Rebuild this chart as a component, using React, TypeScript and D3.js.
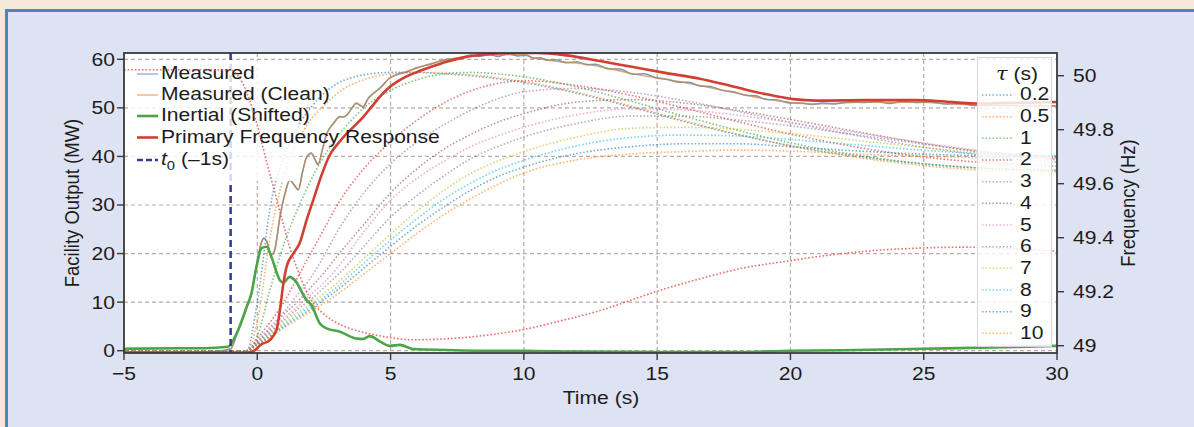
import React from 'react';
import * as d3 from 'd3';

// ---- data ----
const xTicks = [-5, 0, 5, 10, 15, 20, 25, 30];
const yTicks = [0, 10, 20, 30, 40, 50, 60];
const freqTicks = [49, 49.2, 49.4, 49.6, 49.8, 50];

const tauLabels = ['0.2', '0.5', '1', '2', '3', '4', '5', '6', '7', '8', '9', '10'];
const tauColors = ['#1f77b4', '#ff7f0e', '#2ca02c', '#d62728', '#9467bd', '#8c564b',
  '#e377c2', '#7f7f7f', '#bcbd22', '#17becf', '#1f77b4', '#ff7f0e'];

const tauTime = [-5, -1, -0.4, 0, 0.5, 1, 1.5, 2, 2.5, 3, 4, 5, 6, 7, 8, 9, 10, 12, 14, 16, 18, 20, 22, 24, 26, 28, 30];
const tau0_2 = [0, 0, 0, 10, 30, 40, 46, 50, 53, 55, 56.8, 57.3, 57.3, 57, 56.6, 56, 55.2, 53, 50.2, 47.2, 44.5, 42.2, 40.4, 39, 38, 37.4, 37.1];
const tau0_5 = [0, 0, 0, 6, 24, 36, 43, 47.5, 50.5, 53, 55.8, 57, 57.3, 57.2, 56.8, 56.2, 55.4, 53.2, 50.4, 47.4, 44.6, 42.2, 40.2, 38.7, 37.6, 37, 36.8];
const tau1 = [0, 0, 0, 3, 13, 22, 29, 35, 40, 44, 50, 53.6, 55.8, 57, 57.3, 57, 56.4, 54.3, 51.4, 48.3, 45.4, 42.8, 40.7, 39.1, 38, 37.4, 37.2];
const tau2 = [0, 0, 0, 2.5, 6, 10, 15, 20, 25, 30, 37.5, 43, 47.5, 51, 53.5, 55, 55.6, 54.6, 52.6, 50, 47.2, 44.6, 42.4, 40.6, 39.3, 38.5, 38];
const tau3 = [0, 0, 0, 2, 5, 8, 11.5, 15, 19.5, 24.5, 32.5, 38.5, 43, 46.5, 49.5, 51.8, 53.3, 54, 53.2, 51.5, 49.3, 47, 44.8, 42.8, 41.1, 39.7, 38.8];
const tau4 = [0, 0, 0, 1.8, 4.5, 7.5, 10, 13, 16, 19.5, 26, 32.5, 37.5, 41.5, 44.5, 47, 48.8, 51.2, 51.7, 51, 49.5, 47.6, 45.6, 43.6, 41.8, 40.3, 39.3];
const tau5 = [0, 0, 0, 1.6, 4, 6.8, 9, 11.5, 14, 17, 24.5, 31, 35.5, 39, 42, 44.2, 46, 48.6, 49.8, 49.6, 48.5, 47, 45.3, 43.6, 42, 40.6, 39.6];
const tau6 = [0, 0, 0, 1.5, 3.8, 6.3, 8.5, 10.5, 13, 15.5, 21.5, 27.5, 32, 36, 39.5, 42, 44, 46.8, 48.3, 48.3, 47.5, 46.3, 44.8, 43.3, 41.8, 40.6, 39.8];
const tau7 = [0, 0, 0, 1.4, 3.5, 5.8, 7.8, 9.5, 11.8, 14, 19, 24, 28.8, 33, 36.5, 39, 41, 44, 45.8, 46, 45.6, 44.7, 43.6, 42.4, 41.3, 40.5, 40];
const tau8 = [0, 0, 0, 1.3, 3.2, 5.4, 7.3, 9, 11, 13.2, 18, 22.8, 27.2, 31.2, 34.5, 37.2, 39.2, 42.2, 43.9, 44.4, 44.2, 43.5, 42.6, 41.7, 40.9, 40.4, 40.2];
const tau9 = [0, 0, 0, 1.2, 3, 5, 6.8, 8.5, 10.5, 12.5, 17, 21.5, 25.8, 29.6, 33, 35.8, 37.8, 40.6, 42, 42.6, 42.6, 42, 41.3, 40.7, 40.3, 40.1, 40];
const tau10 = [0, 0, 0, 1.1, 2.8, 4.7, 6.4, 8, 9.8, 11.6, 15.8, 20, 24.2, 28, 31.3, 34.2, 36.6, 39.3, 40.5, 41, 41.3, 41.1, 40.6, 40.2, 39.9, 39.7, 39.6];
const tauSeries = [tau0_2, tau0_5, tau1, tau2, tau3, tau4, tau5, tau6, tau7, tau8, tau9, tau10];

// [time (s), MW]
const measuredClean: [number, number][] = [
  [-5, -0.3], [-3, -0.2], [-1.5, -0.2], [-1, 0.3], [-0.77, 3.4], [-0.4, 8.8], [-0.22, 11.7], [-0.03, 17.5],
  [0.16, 22.3], [0.25, 23.1], [0.35, 22.6], [0.53, 19.8], [0.65, 20.6], [0.85, 27.6], [1.05, 32.5], [1.22, 35.1],
  [1.38, 34.2], [1.54, 33.2], [1.7, 36.8], [1.85, 39.9], [2.03, 40.6], [2.15, 39.6], [2.28, 38.4], [2.45, 41.5],
  [2.6, 44.5], [2.85, 46.8], [3.1, 48.1], [3.25, 48.2], [3.41, 48.8], [3.55, 50], [3.72, 50.9], [3.85, 50.6],
  [3.97, 50.3], [4.15, 51.8], [4.35, 53], [4.6, 54], [4.97, 56.2], [5.3, 56.9], [5.6, 57.5], [6, 58.2],
  [6.5, 59.1], [7.1, 59.9], [7.7, 60.5], [8.4, 60.8], [9.1, 60.9], [9.6, 61], [10.1, 60.8], [10.35, 60.3],
  [10.8, 59.9], [11.35, 59.5], [12.35, 59], [13.2, 58.1], [14.1, 57], [15.35, 55.9], [16.6, 54.6], [17.85, 53.2],
  [19.1, 51.8], [20, 51.1], [20.8, 50.8], [21.6, 50.9], [22.8, 51.2], [23.7, 51.1], [24.7, 51.2], [25.8, 50.9],
  [26.9, 50.6], [28, 50.5], [30, 50.4],
];
const measuredRaw: [number, number][] = [
  [-5, -0.2], [-3, -0.3], [-1.5, -0.1], [-1, 0.4], [-0.77, 3.3], [-0.4, 8.9], [-0.22, 11.6], [-0.03, 17.6],
  [0.16, 22.4], [0.25, 23.2], [0.35, 22.5], [0.53, 19.7], [0.65, 20.7], [0.85, 27.5], [1.05, 32.6], [1.22, 35.2],
  [1.38, 34.1], [1.54, 33.1], [1.7, 36.9], [1.85, 39.8], [2.03, 40.7], [2.15, 39.5], [2.28, 38.3], [2.45, 41.6],
  [2.6, 44.6], [2.85, 46.7], [3.1, 48.2], [3.25, 48.1], [3.41, 48.9], [3.55, 49.9], [3.72, 51], [3.85, 50.5],
  [3.97, 50.2], [4.15, 51.9], [4.35, 52.9], [4.6, 54.1], [4.97, 56.1], [5.3, 57], [5.6, 57.4], [6, 58.3],
  [6.5, 59], [7.1, 60], [7.7, 60.4], [8, 60.9], [8.3, 60.6], [8.7, 61], [9, 60.6], [9.4, 61.1], [9.8, 60.7],
  [10.1, 60.9], [10.35, 60.2], [10.6, 60.3], [10.9, 59.8], [11.2, 59.9], [11.6, 59.3], [12, 59.5], [12.35, 58.9],
  [12.7, 59], [13.2, 58], [13.6, 58], [14.1, 56.9], [14.5, 57], [15, 56.1], [15.35, 55.9], [15.8, 55.3],
  [16.2, 55.3], [16.6, 54.5], [17, 54.4], [17.45, 53.6], [17.85, 53.3], [18.3, 52.6], [18.7, 52.5], [19.1, 51.7],
  [19.5, 51.6], [20, 51], [20.4, 51], [20.8, 50.7], [21.2, 51], [21.6, 50.8], [22.2, 51.2], [22.8, 51.1],
  [23.3, 51.3], [23.7, 50.9], [24.2, 51.3], [24.7, 51.1], [25.3, 51.2], [25.8, 50.8], [26.4, 50.9], [26.9, 50.5],
  [28, 50.5], [30, 50.4],
];
const inertialShifted: [number, number][] = [
  [-5, 0.4], [-3, 0.5], [-2, 0.5], [-1.1, 0.8], [-0.77, 3.6], [-0.4, 9], [-0.22, 11.8], [-0.03, 17.3],
  [0.16, 21.1], [0.35, 21.4], [0.53, 19.3], [0.85, 14.5], [0.97, 14], [1.22, 15.2], [1.41, 14.5], [1.85, 10.4],
  [2.03, 9.4], [2.35, 5.6], [2.6, 4.6], [3.1, 3.9], [3.72, 2.5], [3.95, 2.4], [4.22, 3], [4.6, 1.9],
  [4.98, 1], [5.35, 1.2], [5.85, 0.35], [7.1, 0.15], [8.35, 0], [10, 0], [12, -0.2], [15, -0.3],
  [18, -0.3], [20, 0], [22, 0.1], [25, 0.4], [28, 0.7], [30, 1],
];
const primaryResponse: [number, number][] = [
  [-5, -0.4], [-1, -0.4], [-0.5, -0.4], [-0.2, -0.2], [0, 0.5], [0.1, 1.1], [0.47, 2.2], [0.72, 4.3],
  [0.85, 8.4], [0.97, 13.5], [1.1, 17.3], [1.35, 20], [1.6, 22.3], [1.85, 26.9], [2.1, 31], [2.4, 36],
  [2.73, 40.4], [3.05, 42.8], [3.35, 44.7], [3.65, 46.3], [3.97, 48.1], [4.3, 50.3], [4.6, 52.3], [4.9, 54],
  [5.22, 55.3], [5.6, 56.5], [6, 57.4], [6.5, 58.4], [7.1, 59.5], [7.75, 60.4], [8.5, 61], [9.5, 61.3],
  [10.5, 61.3], [11.6, 60.8], [12.8, 59.7], [14.1, 58.4], [15.3, 57.2], [16.6, 56], [17.85, 54.4], [19.1, 52.8],
  [20.1, 51.8], [21, 51.5], [22.85, 51.6], [24.7, 51.6], [25.8, 51.3], [26.9, 50.9], [28, 51], [30, 51.2],
];
// [time (s), Hz]
const frequency: [number, number][] = [
  [-5, 50.022], [-2, 50.022], [-1, 50.02], [-0.65, 49.99], [-0.4, 49.94], [-0.1, 49.85], [0.1, 49.78],
  [0.35, 49.68], [0.6, 49.59], [0.92, 49.47], [1.2, 49.37], [1.48, 49.29], [1.8, 49.21], [2.09, 49.16],
  [2.4, 49.125], [2.73, 49.1], [3.3, 49.07], [3.96, 49.05], [5, 49.03], [5.8, 49.022], [7, 49.025],
  [8.35, 49.036], [10, 49.06], [11.5, 49.095], [12.85, 49.13], [14.35, 49.18], [15.1, 49.205], [16.5, 49.245],
  [18.1, 49.285], [20, 49.315], [21.85, 49.34], [23.5, 49.355], [25, 49.362], [26.5, 49.365], [28.1, 49.36],
  [30, 49.35],
];
const t0 = -1;

// ---- layout ----
const W = 1194;
const H = 427;
const left = 124, right = 1057, top = 53, bottom = 353;
const FONT = "'Liberation Sans', Arial, Helvetica, sans-serif";
const INK = '#1c1c1c';

const x = d3.scaleLinear().domain([-5, 30]).range([left, right]);
const y = d3.scaleLinear().domain([0, 60]).range([350.7, 59.3]);
const yF = d3.scaleLinear().domain([49, 50]).range([345.7, 75.7]);

const mwLine = d3.line<[number, number]>().x(d => x(d[0])).y(d => y(d[1])).curve(d3.curveMonotoneX);
const hzLine = d3.line<[number, number]>().x(d => x(d[0])).y(d => yF(d[1])).curve(d3.curveMonotoneX);

const fmt = (v: number) => (v < 0 ? `\u2212${-v}` : `${v}`);

// text is a bit wide in the original, stretch horizontally
const Txt = ({x: tx, y: ty, anchor = 'middle', rotate = false, size = 18.5, children}: any) => (
  <g transform={`translate(${tx},${ty}) scale(1.14,1)${rotate ? ' rotate(-90)' : ''}`}>
    <text textAnchor={anchor} dy="0.35em" fontSize={size} fill={INK} fontFamily={FONT}>{children}</text>
  </g>
);

const legendMain = [
  {label: 'Measured', color: '#8db2d8', width: 1.4, dash: undefined},
  {label: 'Measured (Clean)', color: '#f0b07a', width: 1.4, dash: undefined},
  {label: 'Inertial (Shifted)', color: '#4aa548', width: 2.6, dash: undefined},
  {label: 'Primary Frequency Response', color: '#d23f31', width: 2.6, dash: undefined},
  {label: 't0', color: '#2f3b9c', width: 2.5, dash: '6 3'},
];
const legendRows = [73, 94, 115, 136.5, 159];

export default function App() {
  return (
    <svg width={W} height={H} style={{position: 'absolute', left: 0, top: 0}}>
      <rect x={0} y={0} width={W} height={H} fill="#f7e9da" />
      <rect x={6.5} y={10.5} width={1300} height={500} fill="#dee3f3" stroke="#5082c8" strokeWidth={3} />
      <defs>
        <clipPath id="plot">
          <rect x={left} y={top} width={right - left} height={bottom - top} />
        </clipPath>
      </defs>
      <rect x={left} y={top} width={right - left} height={bottom - top} fill="#fff" />

      {/* grid */}
      <g stroke="#b8aca6" strokeWidth={1.2} strokeDasharray="4 3">
        {xTicks.filter(t => t > -5 && t < 30).map(t => (
          <line key={'gx' + t} x1={x(t)} x2={x(t)} y1={top} y2={bottom} />
        ))}
        {yTicks.map(t => (
          <line key={'gy' + t} x1={left} x2={right} y1={y(t)} y2={y(t)} />
        ))}
      </g>

      <g clipPath="url(#plot)" fill="none">
        {tauSeries.map((vals, i) => (
          <path key={'tau' + i} d={mwLine(tauTime.map((t, j) => [t, vals[j]] as [number, number])) || ''}
            stroke={tauColors[i]} strokeOpacity={0.62} strokeWidth={1.6} strokeDasharray="1.5 2" />
        ))}
        <path d={mwLine(measuredRaw) || ''} stroke="#4f7fb3" strokeOpacity={0.8} strokeWidth={1.5} />
        <path d={mwLine(measuredClean) || ''} stroke="#c98a4e" strokeOpacity={0.75} strokeWidth={1.5} />
        <path d={mwLine(inertialShifted) || ''} stroke="#4aa548" strokeWidth={2.6} />
        <path d={mwLine(primaryResponse) || ''} stroke="#d23f31" strokeWidth={2.6} />
        <line x1={x(t0)} x2={x(t0)} y1={top} y2={bottom} stroke="#2f3b9c" strokeWidth={2.5} strokeDasharray="7 4" />
      </g>

      {/* main legend */}
      <rect x={130} y={61} width={168} height={120} fill="#fff" fillOpacity={0.8} />
      {legendMain.map((d, i) => (
        <g key={'lg' + i}>
          <line x1={137} x2={158} y1={legendRows[i] + 1} y2={legendRows[i] + 1} stroke={d.color}
            strokeWidth={d.width} strokeDasharray={d.dash} />
          {d.label === 't0' ? (
            <g transform={`translate(161,${legendRows[i]}) scale(1.14,1)`}>
              <text dy="0.35em" fontSize={18.5} fill={INK} fontFamily={FONT}>
                <tspan fontStyle="italic">t</tspan>
                <tspan dy={5} fontSize={13}>0</tspan>
                <tspan dy={-5}>{' (\u20131s)'}</tspan>
              </text>
            </g>
          ) : (
            <Txt x={161} y={legendRows[i]} anchor="start">{d.label}</Txt>
          )}
        </g>
      ))}

      {/* frequency on the right axis */}
      <path clipPath="url(#plot)" d={hzLine(frequency) || ''} fill="none" stroke="#e0564c" strokeOpacity={0.85}
        strokeWidth={1.6} strokeDasharray="1.6 2" />

      {/* tau legend */}
      <rect x={977.5} y={57.5} width={74} height={289} fill="#fff" fillOpacity={0.82} stroke="#d6d6d6" strokeWidth={1} />
      <g transform="translate(1017,74) scale(1.14,1)">
        <text textAnchor="middle" dy="0.35em" fontSize={18.5} fill={INK} fontFamily={FONT}>
          <tspan fontStyle="italic" fontFamily="'DejaVu Serif', serif">{'\u03c4'}</tspan>
          <tspan>{' (s)'}</tspan>
        </text>
      </g>
      {tauLabels.map((lab, i) => {
        const ly = 95 + i * 21.67;
        return (
          <g key={'tl' + i}>
            <line x1={982} x2={1013} y1={ly} y2={ly} stroke={tauColors[i]} strokeOpacity={0.6}
              strokeWidth={1.5} strokeDasharray="1.5 2" />
            <Txt x={1020} y={ly - 1} anchor="start">{lab}</Txt>
          </g>
        );
      })}

      {/* frame */}
      <rect x={left} y={top} width={right - left} height={bottom - top} fill="none" stroke="#3a3a3a" strokeWidth={1.8} />

      {/* x axis */}
      {xTicks.map(t => (
        <g key={'xt' + t}>
          <line x1={x(t)} x2={x(t)} y1={bottom} y2={bottom + 7} stroke="#3a3a3a" strokeWidth={1.4} />
          <Txt x={x(t)} y={374}>{fmt(t)}</Txt>
        </g>
      ))}
      <Txt x={601} y={398}>Time (s)</Txt>

      {/* left axis */}
      {yTicks.map(t => (
        <g key={'yt' + t}>
          <line x1={left - 7} x2={left} y1={y(t)} y2={y(t)} stroke="#3a3a3a" strokeWidth={1.4} />
          <Txt x={115} y={y(t)} anchor="end">{fmt(t)}</Txt>
        </g>
      ))}
      <Txt x={72} y={203} rotate>Facility Output (MW)</Txt>

      {/* right axis */}
      {freqTicks.map(t => (
        <g key={'ft' + t}>
          <line x1={right} x2={right + 7} y1={yF(t)} y2={yF(t)} stroke="#3a3a3a" strokeWidth={1.4} />
          <Txt x={1073} y={yF(t)} anchor="start">{`${+t.toFixed(1)}`}</Txt>
        </g>
      ))}
      <Txt x={1128} y={203} rotate>Frequency (Hz)</Txt>
    </svg>
  );
}
